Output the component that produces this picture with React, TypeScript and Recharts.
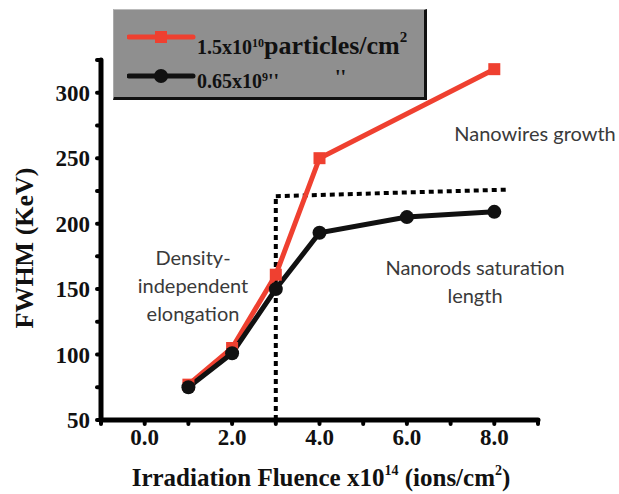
import {
  Customized,
  Legend,
  Line,
  LineChart,
  ReferenceLine,
  XAxis,
  YAxis,
} from "recharts";

// high density series (1.5x10^10 particles/cm^2)
const highFluence = [1, 2, 3, 4, 8];
const highFwhm = [77, 105, 161, 250, 318];

// low density series (0.65x10^9 particles/cm^2)
const lowFluence = [1, 2, 3, 4, 6, 8];
const lowFwhm = [75, 101, 150, 193, 205, 209];

const xTicks = [-1, 0, 1, 2, 3, 4, 5, 6, 7, 8, 9];
const xLabelTicks = [0, 2, 4, 6, 8];
const yTicks = [50, 75, 100, 125, 150, 175, 200, 225, 250, 275, 300, 325];
const yLabelTicks = [50, 100, 150, 200, 250, 300];

// dotted guide: vertical at x=3 then nearly flat plateau
const guideX = [3, 3, 8.35];
const guideY = [50, 221, 226];

const highData = highFluence.map((x, i) => ({ x, y: highFwhm[i] }));
const lowData = lowFluence.map((x, i) => ({ x, y: lowFwhm[i] }));

const RED = "#ef4030";
const SERIF = "'Liberation Serif', 'Times New Roman', serif";
const SANS = "Lato, 'Open Sans', sans-serif";

function XTick(props: any) {
  const { x, y, payload } = props;
  if (!xLabelTicks.includes(payload.value)) return null;
  return (
    <text x={x} y={y} dy={17} textAnchor="middle" fontFamily={SERIF} fontWeight="bold" fontSize={23} fill="#111">
      {payload.value.toFixed(1)}
    </text>
  );
}

function YTick(props: any) {
  const { x, y, payload } = props;
  if (!yLabelTicks.includes(payload.value)) return null;
  return (
    <text x={x} y={y} dy={8} textAnchor="end" fontFamily={SERIF} fontWeight="bold" fontSize={23} fill="#111">
      {payload.value}
    </text>
  );
}

function SquareDot(props: any) {
  const { cx, cy, index } = props;
  return <rect key={`sq-${index}`} x={cx - 6} y={cy - 6} width={12} height={12} fill={RED} />;
}

function LegendBox() {
  return (
    <div
      style={{
        width: 310,
        height: 87,
        background: "#8f8f8f",
        borderTop: "1px solid #bbb",
        borderLeft: "1px solid #aaa",
        borderRight: "3px solid #111",
        borderBottom: "3px solid #111",
        fontFamily: SERIF,
        fontWeight: "bold",
        color: "#111",
        position: "relative",
      }}
    >
      <svg width={70} height={16} style={{ position: "absolute", left: 13, top: 19 }}>
        <line x1={2} y1={8} x2={66} y2={8} stroke={RED} strokeWidth={5} strokeLinecap="round" />
        <rect x={28} y={2} width={12} height={12} fill={RED} />
      </svg>
      <div style={{ position: "absolute", left: 83, top: 12, whiteSpace: "nowrap", lineHeight: "30px" }}>
        <span style={{ fontSize: 20 }}>1.5x10</span>
        <sup style={{ fontSize: 12, verticalAlign: "7px" }}>10</sup>
        <span style={{ fontSize: 26 }}>particles/cm</span>
        <sup style={{ fontSize: 15, verticalAlign: "12px" }}>2</sup>
      </div>
      <svg width={70} height={18} style={{ position: "absolute", left: 13, top: 57 }}>
        <line x1={2} y1={9} x2={66} y2={9} stroke="#111" strokeWidth={5} strokeLinecap="round" />
        <circle cx={34} cy={9} r={7} fill="#111" />
      </svg>
      <div style={{ position: "absolute", left: 83, top: 52, whiteSpace: "nowrap", lineHeight: "30px", fontSize: 20 }}>
        <span>0.65x10</span>
        <sup style={{ fontSize: 12, verticalAlign: "7px" }}>9</sup>
        <span>''</span>
        <span style={{ position: "absolute", left: 138 }}>''</span>
      </div>
    </div>
  );
}

function Overlay() {
  return (
    <g>
      <text
        transform="translate(33, 248) rotate(-90)"
        textAnchor="middle"
        fontFamily={SERIF}
        fontWeight="bold"
        fontSize={26}
        fill="#111"
      >
        FWHM (KeV)
      </text>
      <text x={321} y={486} textAnchor="middle" fontFamily={SERIF} fontWeight="bold" fontSize={25} fill="#111">
        Irradiation Fluence x10
        <tspan fontSize={14} dy={-11}>14</tspan>
        <tspan dy={11}> (ions/cm</tspan>
        <tspan fontSize={14} dy={-11}>2</tspan>
        <tspan dy={11}>)</tspan>
      </text>
      <g fontFamily={SANS} fontSize={20} fill="#3a3a3a">
        <text x={535} y={141} textAnchor="middle">Nanowires growth</text>
        <text x={193} y={265} textAnchor="middle">Density-</text>
        <text x={193} y={293} textAnchor="middle">independent</text>
        <text x={193} y={321} textAnchor="middle">elongation</text>
        <text x={475} y={275} textAnchor="middle">Nanorods saturation</text>
        <text x={475} y={303} textAnchor="middle">length</text>
      </g>
    </g>
  );
}

export default function App() {
  return (
    <div style={{ position: "absolute", left: 0, top: 0, width: 619, height: 494, background: "#fff" }}>
      <LineChart width={619} height={494} margin={{ top: 60, right: 81, bottom: 34, left: 41 }}>
        <XAxis
          type="number"
          dataKey="x"
          domain={[-1, 9]}
          ticks={xTicks}
          allowDataOverflow
          height={40}
          tickSize={4}
          tickMargin={4}
          axisLine={{ stroke: "#000", strokeWidth: 5, strokeLinecap: "round" }}
          tickLine={{ stroke: "#000", strokeWidth: 4, strokeLinecap: "round" }}
          tick={<XTick />}
          interval={0}
        />
        <YAxis
          type="number"
          dataKey="y"
          domain={[50, 325]}
          ticks={yTicks}
          allowDataOverflow
          width={60}
          tickSize={4}
          tickMargin={7}
          axisLine={{ stroke: "#000", strokeWidth: 5, strokeLinecap: "round" }}
          tickLine={{ stroke: "#000", strokeWidth: 4, strokeLinecap: "round" }}
          tick={<YTick />}
          interval={0}
        />
        <ReferenceLine
          segment={[
            { x: guideX[0], y: guideY[0] },
            { x: guideX[1], y: guideY[1] },
          ]}
          stroke="#000"
          strokeWidth={4}
          strokeDasharray="5 4"
        />
        <ReferenceLine
          segment={[
            { x: guideX[1], y: guideY[1] },
            { x: guideX[2], y: guideY[2] },
          ]}
          stroke="#000"
          strokeWidth={4}
          strokeDasharray="5 4"
        />
        <Line
          data={highData}
          dataKey="y"
          name="high"
          stroke={RED}
          strokeWidth={5}
          dot={SquareDot}
          isAnimationActive={false}
        />
        <Line
          data={lowData}
          dataKey="y"
          name="low"
          stroke="#111"
          strokeWidth={5}
          dot={{ r: 7, fill: "#111", stroke: "none" }}
          isAnimationActive={false}
        />
        <Customized component={Overlay} />
        <Legend
          layout="vertical"
          align="center"
          verticalAlign="middle"
          content={() => <LegendBox />}
          wrapperStyle={{ position: "absolute", left: 113, top: 9, width: 314, height: 91 }}
        />
      </LineChart>
    </div>
  );
}
